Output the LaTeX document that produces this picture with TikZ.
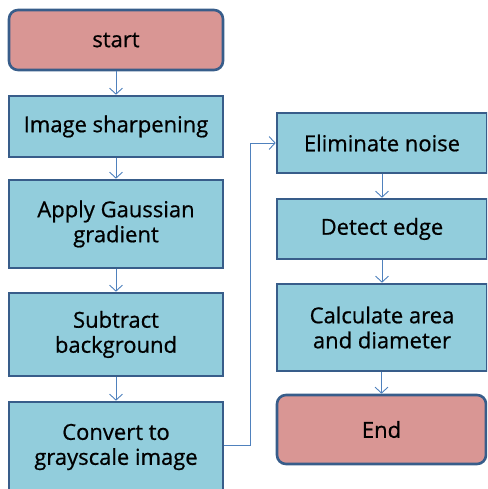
\documentclass[tikz,border=0pt]{standalone}
\usepackage{fontspec}
\setmainfont{Open Sans}
\newfontfamily\boxfont{Open Sans}[FakeBold=0.7]
\usetikzlibrary{arrows.meta}
\definecolor{boxblue}{RGB}{146,205,220}
\definecolor{boxpink}{RGB}{217,150,148}
\definecolor{edgeblue}{RGB}{56,93,138}
\definecolor{linkblue}{RGB}{79,129,189}
\tikzset{
  boxtext/.style={align=center, font=\boxfont\fontsize{22}{25}\selectfont},
  proc/.style={draw=edgeblue, line width=2.6pt, fill=boxblue, boxtext, inner sep=0pt},
  term/.style={proc, fill=boxpink, rounded corners=9pt},
  link/.style={draw=linkblue, line width=0.9pt, -{Straight Barb[length=6pt,width=13pt,line width=0.9pt]}},
}
\begin{document}
\begin{tikzpicture}[x=1pt,y=-1pt]
\useasboundingbox (0,0) rectangle (487,489);
\clip (0,0) rectangle (487,489);
% left column
\node[term, minimum width=214pt, minimum height=60pt] (start) at (116,40) {start};
\node[proc, minimum width=214pt, minimum height=61pt] (sharp) at (116,126.5) {Image sharpening};
\node[proc, minimum width=214pt, minimum height=88pt] (gauss) at (116,224) {Apply Gaussian\\gradient};
\node[proc, minimum width=214pt, minimum height=83pt] (subtr) at (116,334.5) {Subtract\\background};
\node[proc, minimum width=214pt, minimum height=92pt] (conv) at (116,448) {};
\node[boxtext] (convt) at (116,447) {Convert to\\grayscale image};
% right column
\node[proc, minimum width=210pt, minimum height=60pt] (noise) at (382,143) {Eliminate noise};
\node[proc, minimum width=210pt, minimum height=60pt] (edge) at (382,229) {Detect edge};
\node[proc, minimum width=210pt, minimum height=87pt] (calc) at (382,327.5) {Calculate area\\and diameter};
\node[term, minimum width=209pt, minimum height=69pt] (end) at (381.5,429.5) {End};
% connectors
\coordinate (turnA) at (250,445);
\coordinate (turnB) at (250,143);
\draw[link] (start) -- (sharp);
\draw[link] (sharp) -- (gauss);
\draw[link] (gauss) -- (subtr);
\draw[link] (subtr) -- (conv);
\draw[link] (conv.east |- turnA) -- (turnA) -- (turnB) -- (noise.west);
\draw[link] (noise) -- (edge);
\draw[link] (edge) -- (calc);
\draw[link] (calc.south -| end.north) -- (end.north);
\end{tikzpicture}
\end{document}
